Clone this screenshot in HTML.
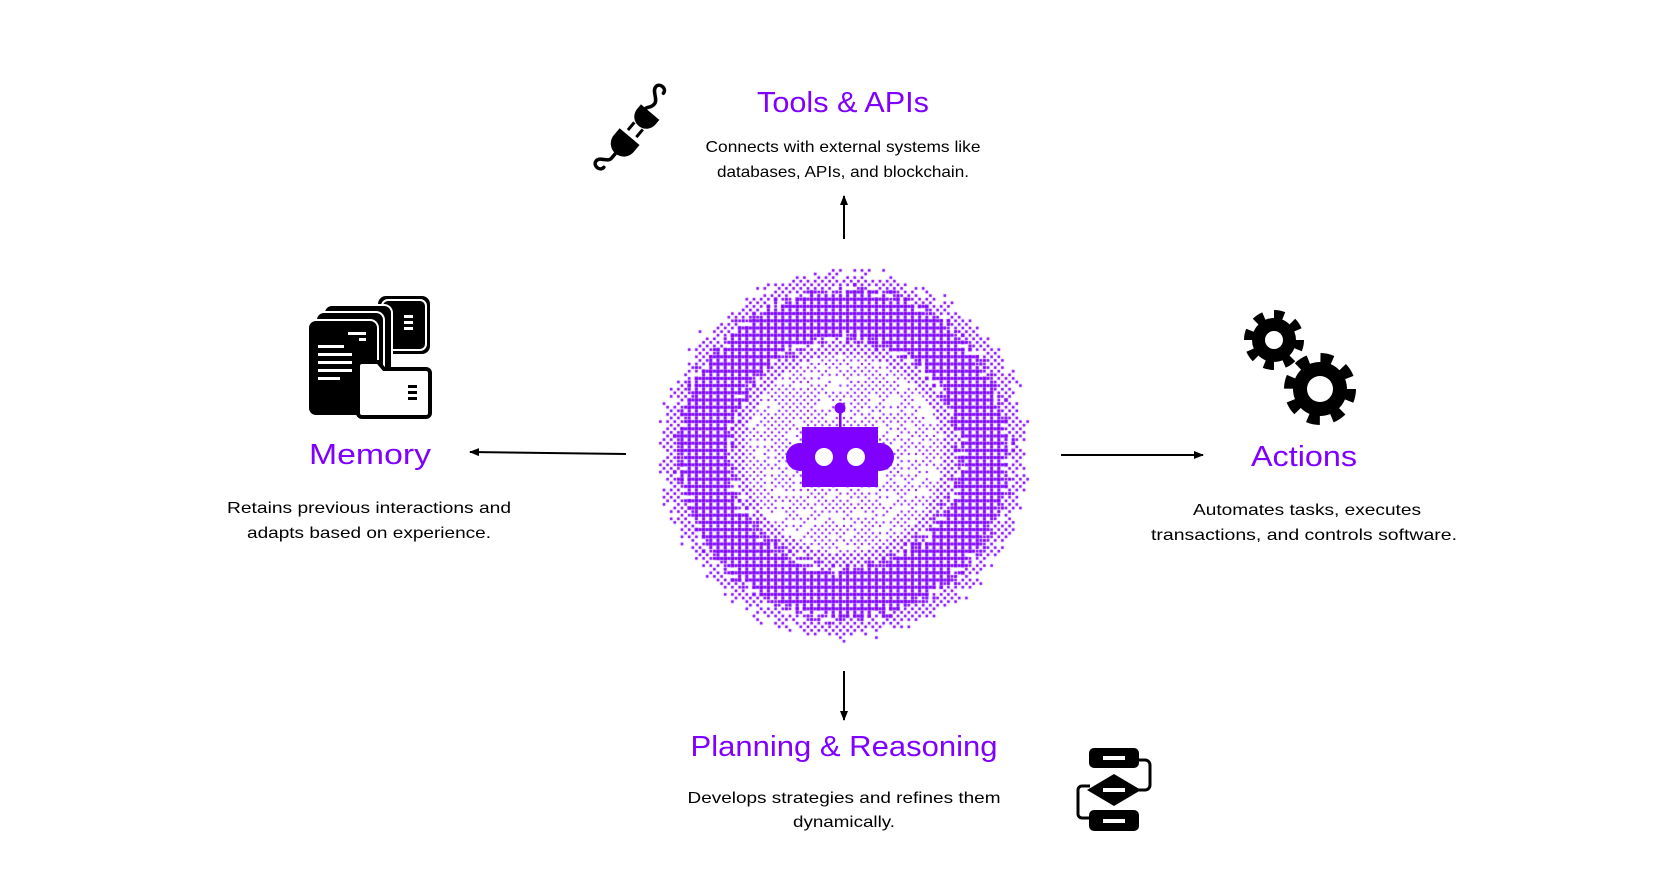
<!DOCTYPE html>
<html><head><meta charset="utf-8">
<style>
html,body{margin:0;padding:0;background:#fff;width:1680px;height:879px;overflow:hidden}
svg{position:absolute;left:0;top:0}
canvas{position:absolute;left:0;top:0}
.t{font-family:"Liberation Sans",sans-serif;fill:#7f00ff;text-anchor:middle}
.d{font-family:"Liberation Sans",sans-serif;fill:#000;text-anchor:middle;font-size:16px}
</style></head><body>
<canvas id="c" width="1680" height="879"></canvas>
<svg width="1680" height="879" viewBox="0 0 1680 879">
<defs>
<marker id="ah" markerWidth="10" markerHeight="8" refX="9" refY="4" orient="auto" markerUnits="userSpaceOnUse"><path d="M0,0 L10,4 L0,8 Z" fill="#000"/></marker>
</defs>
<line x1="844" y1="239" x2="844" y2="196" stroke="#000" stroke-width="2" marker-end="url(#ah)"/>
<line x1="626" y1="454" x2="470" y2="452" stroke="#000" stroke-width="2" marker-end="url(#ah)"/>
<line x1="1061" y1="455" x2="1203" y2="455" stroke="#000" stroke-width="2" marker-end="url(#ah)"/>
<line x1="844" y1="671" x2="844" y2="720" stroke="#000" stroke-width="2" marker-end="url(#ah)"/>

<g fill="#7f00ff">
<rect x="802" y="427" width="76" height="60"/>
<circle cx="800" cy="457" r="14"/>
<circle cx="880" cy="457" r="14"/>
<rect x="839" y="410" width="2.5" height="18"/>
<circle cx="840" cy="408" r="5.5"/>
</g>
<circle cx="824" cy="457" r="9" fill="#fff"/>
<circle cx="856" cy="457" r="9" fill="#fff"/>

<text class="t" x="843" y="112" font-size="29" textLength="172" lengthAdjust="spacingAndGlyphs">Tools &amp; APIs</text>
<text class="d" x="843" y="152" textLength="275" lengthAdjust="spacingAndGlyphs">Connects with external systems like</text>
<text class="d" x="843" y="177" textLength="252" lengthAdjust="spacingAndGlyphs">databases, APIs, and blockchain.</text>

<text class="t" x="370" y="464" font-size="29" textLength="122" lengthAdjust="spacingAndGlyphs">Memory</text>
<text class="d" x="369" y="513" textLength="284" lengthAdjust="spacingAndGlyphs">Retains previous interactions and</text>
<text class="d" x="369" y="538" textLength="244" lengthAdjust="spacingAndGlyphs">adapts based on experience.</text>

<text class="t" x="1304" y="466" font-size="29" textLength="106" lengthAdjust="spacingAndGlyphs">Actions</text>
<text class="d" x="1307" y="515" textLength="228" lengthAdjust="spacingAndGlyphs">Automates tasks, executes</text>
<text class="d" x="1304" y="540" textLength="306" lengthAdjust="spacingAndGlyphs">transactions, and controls software.</text>

<text class="t" x="844" y="756" font-size="29" textLength="307" lengthAdjust="spacingAndGlyphs">Planning &amp; Reasoning</text>
<text class="d" x="844" y="803" textLength="313" lengthAdjust="spacingAndGlyphs">Develops strategies and refines them</text>
<text class="d" x="844" y="827" textLength="102" lengthAdjust="spacingAndGlyphs">dynamically.</text>

<g transform="translate(636,129) rotate(40)">
<path d="M-2,-45 c0,-6 -10,-6 -10,0 c0,6 10,8 10,14 c0,6 -4,6 -4,10" fill="none" stroke="#000" stroke-width="3.5" stroke-linecap="round"/>
<path d="M-12,-22 h24 v6 a12,12 0 0 1 -12,12 a12,12 0 0 1 -12,-12 z" fill="#000"/>
<rect x="-7" y="-4" width="3" height="10" fill="#000"/><rect x="4" y="-4" width="3" height="10" fill="#000"/>
<path d="M-13,10 h26 v8 a13,13 0 0 1 -13,14 a13,13 0 0 1 -13,-14 z" fill="#000"/>
<path d="M0,32 v6 c0,6 -10,6 -10,12 c0,6 10,6 10,0" fill="none" stroke="#000" stroke-width="3.5" stroke-linecap="round"/>
</g>

<g>
<rect x="378" y="296" width="52" height="58" rx="8" fill="#000"/>
<rect x="382" y="300" width="44" height="50" rx="6" fill="#000" stroke="#fff" stroke-width="2"/>
<rect x="404" y="315" width="9" height="3" fill="#fff"/><rect x="404" y="321" width="9" height="3" fill="#fff"/><rect x="404" y="327" width="9" height="3" fill="#fff"/>
<rect x="324" y="305" width="68" height="90" rx="8" fill="#000" stroke="#fff" stroke-width="2"/>
<rect x="316" y="312" width="68" height="94" rx="8" fill="#000" stroke="#fff" stroke-width="2"/>
<rect x="308" y="320" width="70" height="96" rx="8" fill="#000" stroke="#fff" stroke-width="2"/>
<rect x="348" y="332" width="18" height="3" fill="#fff"/><rect x="359" y="338" width="7" height="3" fill="#fff"/>
<rect x="318" y="345" width="26" height="3" fill="#fff"/><rect x="318" y="353" width="34" height="3" fill="#fff"/>
<rect x="318" y="361" width="34" height="3" fill="#fff"/><rect x="318" y="369" width="34" height="3" fill="#fff"/><rect x="318" y="377" width="22" height="3" fill="#fff"/>
<path d="M362,362 h16 l6,7 h42 a4,4 0 0 1 4,4 v40 a4,4 0 0 1 -4,4 h-64 a4,4 0 0 1 -4,-4 v-47 a4,4 0 0 1 4,-4 z" fill="#fff" stroke="#000" stroke-width="4"/>
<rect x="408" y="385" width="9" height="3" fill="#000"/><rect x="408" y="391" width="9" height="3" fill="#000"/><rect x="408" y="397" width="9" height="3" fill="#000"/>
</g>

<g fill="#000">
<circle cx="1274" cy="340" r="22"/>
<circle cx="1274" cy="340" r="25" fill="none" stroke="#000" stroke-width="10" stroke-dasharray="9.6 10"/>
<circle cx="1274" cy="340" r="9" fill="#fff"/>
<circle cx="1320" cy="389" r="27"/>
<circle cx="1320" cy="389" r="30" fill="none" stroke="#000" stroke-width="12" stroke-dasharray="11.8 11.8"/>
<circle cx="1320" cy="389" r="13" fill="#fff"/>
</g>

<g>
<path d="M1135,760 h10 a5,5 0 0 1 5,5 v20 a5,5 0 0 1 -5,5 h-8" fill="none" stroke="#000" stroke-width="3"/>
<path d="M1090,786 h-8 a4,4 0 0 0 -4,4 v24 a4,4 0 0 0 4,4 h10" fill="none" stroke="#000" stroke-width="3"/>
<rect x="1089" y="748" width="50" height="20" rx="5" fill="#000"/>
<rect x="1103" y="756" width="22" height="4" fill="#fff"/>
<path d="M1114,774 L1141,790 L1114,806 L1087,790 Z" fill="#000"/>
<rect x="1103" y="788" width="22" height="4" fill="#fff"/>
<rect x="1089" y="810" width="50" height="21" rx="5" fill="#000"/>
<rect x="1103" y="819" width="22" height="4" fill="#fff"/>
</g>
</svg>
<script>
var c=document.getElementById('c').getContext('2d');
c.fillStyle='#7f00ff';
var cx=844,cy=454,p=3.6;
function rnd(i,j){var x=Math.sin(i*127.1+j*311.7)*43758.5453;return x-Math.floor(x);}
for(var i=-54;i<=54;i++)for(var j=-54;j<=54;j++){
 var x=cx+i*p,y=cy+j*p,r=Math.hypot(i*p,j*p),q=rnd(i,j);
 if(r>190)continue;
 var chk=((i+j)&1)==0;
 var ring=(r>=120&&r<=160)||(r>108&&r<172&&q<(1-(Math.abs(r-140)-20)/12)*0.8);
 if(ring){
   if((i&1)==0&&(j&1)==0) continue;
   var s=(i&1)&&(j&1)?p:p-0.6;
   c.fillRect(x-s/2,y-s/2,s,s);
 } else if(chk){
   if(r>176 && q>(190-r)/16) continue;
   if(r<100 && q<0.25) continue;
   var s=r<100?2.0:2.6;
   c.fillRect(x-s/2,y-s/2,s,s);
 }
}
</script>
</body></html>
